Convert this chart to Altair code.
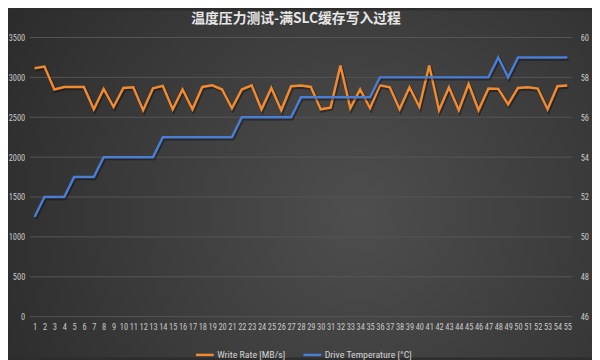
import altair as alt
import pandas as pd

# ---- data ----
x_labels = list(range(1, 56))
write_rate = [3115, 3136, 2848, 2880, 2880, 2880, 2600, 2855, 2629, 2868,
              2876, 2588, 2863, 2893, 2600, 2848, 2600, 2880, 2901, 2848,
              2613, 2848, 2901, 2600, 2868, 2588, 2889, 2897, 2880, 2600,
              2621, 3148, 2613, 2848, 2613, 2901, 2876, 2600, 2876, 2629,
              3148, 2588, 2876, 2588, 2917, 2588, 2860, 2856, 2662, 2868,
              2876, 2860, 2600, 2889, 2897]
temperature = [51, 52, 52, 52, 53, 53, 53, 54, 54, 54,
               54, 54, 54, 55, 55, 55, 55, 55, 55, 55,
               55, 56, 56, 56, 56, 56, 56, 57, 57, 57,
               57, 57, 57, 57, 57, 58, 58, 58, 58, 58,
               58, 58, 58, 58, 58, 58, 58, 59, 58, 59,
               59, 59, 59, 59, 59]
rate_ticks = [0, 500, 1000, 1500, 2000, 2500, 3000, 3500]
temp_ticks = [46, 48, 50, 52, 54, 56, 58, 60]
series = ["Write Rate [MB/s]", "Drive Temperature [°C]"]
colors = ["#F28A30", "#4A7DD4"]
title_text = "温度压力测试-满SLC缓存写入过程"

W, H = 550, 283
PAD = {"left": 22, "top": 27.5, "right": 20, "bottom": 41.5}

df = pd.DataFrame({"i": x_labels, "rate": write_rate, "temp": temperature})
grid_df = pd.DataFrame({"v": rate_ticks})
base = alt.Chart(df)

LABEL_FONT = "Liberation Sans Narrow, Roboto Condensed, Roboto, sans-serif"
AX = dict(labelFont=LABEL_FONT, labelFontSize=8.5, labelColor="#c8c8c8",
          domain=False, ticks=False, grid=False, zindex=3)

x_enc = alt.X("i:O", title=None,
              axis=alt.Axis(labelAngle=0, labelPadding=6, labelOverlap=False, **AX))

color_enc = alt.Color("s:N", scale=alt.Scale(domain=series, range=colors),
                      legend=alt.Legend(title=None, orient="none", legendX=167, legendY=311,
                                        direction="horizontal", symbolType="stroke",
                                        symbolStrokeWidth=2.5, symbolSize=324,
                                        labelFontSize=10, labelColor="#d0d0d0",
                                        labelFont=LABEL_FONT, columnPadding=12,
                                        labelOffset=2))

bg = alt.Chart(alt.Data(values=[{"a": 1}])).mark_rect(
    fill={"gradient": "radial", "x1": 0.6, "y1": 0.55, "r1": 0,
          "x2": 0.6, "y2": 0.55, "r2": 0.8,
          "stops": [{"offset": 0, "color": "#4e4e4e"},
                    {"offset": 1, "color": "#262626"}]}
).encode(x=alt.value(-PAD["left"]), x2=alt.value(W + PAD["right"]),
         y=alt.value(-PAD["top"]), y2=alt.value(H + PAD["bottom"]))

rate_y_scale = alt.Scale(domain=[0, 3500], nice=False)
temp_y_scale = alt.Scale(domain=[46, 60], zero=False, nice=False)

grid = alt.Chart(grid_df).mark_rule(color="#555555", strokeWidth=1).encode(
    y=alt.Y("v:Q", scale=rate_y_scale, axis=None))

rate_shadow = base.mark_line(color="#000000", opacity=0.35, strokeWidth=3.5,
                             xOffset=1, yOffset=1.5).encode(
    x=x_enc, y=alt.Y("rate:Q", scale=rate_y_scale, axis=None))
rate_line = base.transform_calculate(s="'Write Rate [MB/s]'").mark_line(strokeWidth=2.5).encode(
    x=x_enc,
    y=alt.Y("rate:Q", scale=rate_y_scale, title=None,
            axis=alt.Axis(orient="left", values=rate_ticks, labelPadding=5, format="d", **AX)),
    color=color_enc)

temp_shadow = base.mark_line(color="#000000", opacity=0.35, strokeWidth=3.5,
                             xOffset=1, yOffset=1.5).encode(
    x=x_enc, y=alt.Y("temp:Q", scale=temp_y_scale, axis=None))
temp_line = base.transform_calculate(s="'Drive Temperature [°C]'").mark_line(strokeWidth=2.5).encode(
    x=x_enc,
    y=alt.Y("temp:Q", scale=temp_y_scale, title=None,
            axis=alt.Axis(orient="right", values=temp_ticks, labelPadding=8, **AX)),
    color=color_enc)

title = alt.Chart(alt.Data(values=[{"t": title_text}])).mark_text(
    font="Noto Sans CJK SC", fontSize=14, fontWeight="bold", color="#e6e6e6",
    baseline="middle", align="center"
).encode(x=alt.value(270), y=alt.value(-18.5), text="t:N")

chart = alt.layer(bg, grid, rate_shadow, rate_line, temp_shadow, temp_line, title).resolve_scale(
    y="independent"
).properties(
    width=W, height=H, padding=PAD, autosize="none"
).configure(
    background="#2d2d2d"
).configure_view(
    strokeWidth=0
)

chart.save("out.html", embed_options={"renderer": "svg", "actions": False})
